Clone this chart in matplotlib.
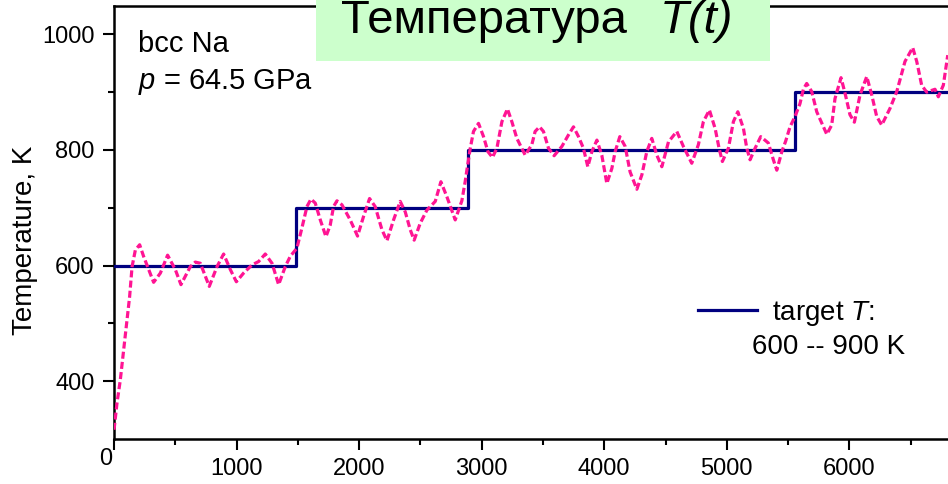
import matplotlib
matplotlib.use('Agg')
import matplotlib.pyplot as plt
from matplotlib import transforms, font_manager
from matplotlib.lines import Line2D
from matplotlib.patches import Rectangle

plt.rcParams['font.family'] = ['Liberation Sans', 'DejaVu Sans']
plt.rcParams['mathtext.fontset'] = 'custom'
plt.rcParams['mathtext.rm'] = 'Liberation Sans'
plt.rcParams['mathtext.it'] = 'Liberation Sans:italic'

# MD temperature
time = [0, 24, 51, 78, 100, 127, 147, 174, 209, 241, 323, 378, 437, 500, 546,
        622, 663, 704, 777, 840, 894, 949, 998, 1057, 1125, 1180, 1234, 1289,
        1343, 1397, 1438, 1492, 1533, 1574, 1607, 1642, 1683, 1729, 1764, 1791,
        1819, 1860, 1927, 1987, 2036, 2085, 2131, 2186, 2227, 2281, 2335, 2376,
        2417, 2449, 2498, 2553, 2621, 2667, 2716, 2784, 2838, 2865, 2879, 2906,
        2933, 2974, 3015, 3051, 3088, 3124, 3165, 3210, 3246, 3287, 3355, 3409,
        3436, 3472, 3504, 3545, 3591, 3654, 3708, 3749, 3790, 3830, 3866, 3899,
        3940, 3980, 4021, 4062, 4089, 4127, 4171, 4211, 4266, 4307, 4347, 4388,
        4429, 4470, 4524, 4592, 4646, 4714, 4768, 4809, 4858, 4905, 4937, 4964,
        5013, 5054, 5090, 5136, 5163, 5190, 5231, 5277, 5339, 5380, 5408, 5449,
        5480, 5516, 5557, 5597, 5625, 5652, 5693, 5734, 5816, 5856, 5883, 5932,
        5965, 6005, 6041, 6087, 6142, 6183, 6223, 6264, 6332, 6387, 6454, 6517,
        6550, 6590, 6631, 6699, 6726, 6767, 6803]
temp = [316, 362, 402, 454, 495, 546, 598, 627, 636, 616, 571, 587, 618, 593, 567,
        598, 606, 604, 564, 598, 620, 593, 572, 587, 601, 607, 620, 604,
        567, 598, 616, 630, 665, 702, 715, 708, 679, 650, 670, 702,
        712, 705, 679, 651, 685, 716, 702, 662, 643, 679, 711, 693,
        662, 644, 673, 696, 711, 745, 719, 679, 712, 745, 765, 802,
        832, 846, 823, 797, 787, 803, 849, 871, 849, 820, 791, 809,
        832, 840, 832, 803, 790, 806, 826, 840, 823, 803, 771, 797,
        817, 791, 742, 768, 797, 823, 806, 762, 732, 757, 797, 820,
        791, 771, 814, 832, 806, 777, 809, 849, 869, 837, 803, 780,
        803, 849, 866, 837, 803, 783, 803, 823, 812, 783, 765, 797,
        815, 840, 858, 880, 905, 915, 901, 866, 827, 843, 889, 925,
        898, 861, 848, 895, 927, 895, 858, 843, 872, 901, 953, 977,
        953, 912, 900, 905, 892, 912, 964]

# target temperature program
step_time = [0, 1485, 2887, 5557, 6805]
step_temp = [600, 700, 800, 900, 900]

xticks = [0, 1000, 2000, 3000, 4000, 5000, 6000]
yticks = [400, 600, 800, 1000]

fig = plt.figure(figsize=(9.48, 4.84), dpi=100)
ax = fig.add_axes([0.1203, 0.093, 0.8797, 0.8946])

ax.step(step_time, step_temp, where='post', color='#000080', lw=2.3, zorder=3)
ax.plot(time, temp, color='#FF1493', lw=2.3, dashes=(2.2, 1.0), zorder=4)

ax.set_xlim(0, 6805)
ax.set_ylim(300, 1049)
ax.set_xticks(xticks)
ax.set_xticks(range(500, 7000, 1000), minor=True)
ax.set_yticks(yticks)
ax.set_yticks([500, 700, 900], minor=True)
ax.tick_params(which='major', direction='out', length=8, width=1.5,
               labelsize=17, pad=6)
ax.tick_params(which='minor', direction='out', length=4.5, width=1.5)
ax.spines['right'].set_visible(False)
for s in ['left', 'bottom', 'top']:
    ax.spines[s].set_linewidth(1.8)

# origin label sits down-left of the corner
lab0 = ax.xaxis.get_major_ticks()[0].label1
lab0.set_transform(lab0.get_transform() +
                   transforms.ScaledTranslation(-0.08, 0.10, fig.dpi_scale_trans))

ax.set_ylabel('Temperature, K', fontsize=20)
ax.yaxis.set_label_coords(-0.091, 0.46)

fig.text(138 / 948, (484 - 52) / 484, 'bcc Na', fontsize=21, va='baseline')
fig.text(138 / 948, (484 - 89) / 484, '$\\it{p}$ = 64.5 GPa', fontsize=21,
         va='baseline')

handle = Line2D([], [], color='#000080', lw=2.3)
ax.legend([handle], ['target $\\it{T}$:'], loc='center left',
          bbox_to_anchor=(698 / 948, (484 - 313) / 484),
          bbox_transform=fig.transFigure, frameon=False, fontsize=20,
          borderpad=0, borderaxespad=0, handlelength=2.12, handletextpad=0.54)
fig.text(752 / 948, (484 - 347) / 484, '600 -- 900 K', fontsize=20, va='center')

# title plate, narrow face if the system has it
try:
    font_manager.findfont('Liberation Sans Narrow', fallback_to_default=False)
    title_family, title_size = 'Liberation Sans Narrow', 42
except ValueError:
    title_family, title_size = 'Liberation Sans', 34

fig.add_artist(Rectangle((316 / 948, (484 - 61) / 484), (770 - 316) / 948,
                         61 / 484, transform=fig.transFigure,
                         facecolor='#CCFFCC', edgecolor='none', zorder=10))
fig.text(484 / 948, (484 - 33) / 484, 'Температура', fontsize=title_size,
         family=title_family, ha='center', va='baseline', zorder=11)
fig.text(660 / 948, (484 - 33) / 484, 'T(t)', fontsize=title_size,
         family=title_family, style='italic', ha='left', va='baseline',
         zorder=11)

fig.savefig('out.png', dpi=100)
